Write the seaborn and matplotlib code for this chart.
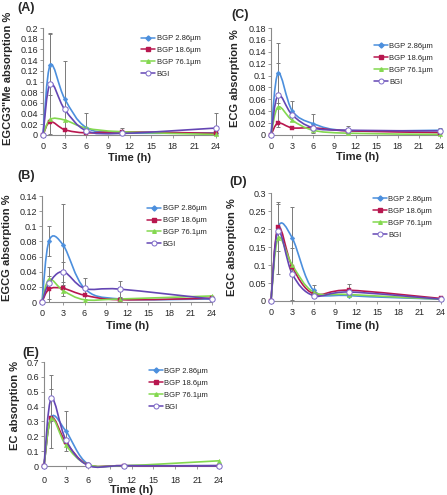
import numpy as np
import pandas as pd
import matplotlib
matplotlib.use("Agg")
import matplotlib.pyplot as plt
import seaborn as sns
from matplotlib.path import Path
from matplotlib.patches import PathPatch
from matplotlib.lines import Line2D
from matplotlib.ticker import FuncFormatter, MultipleLocator

# ---------------- data ----------------
time_h = [0, 1, 3, 6, 11, 24]
series = ["BGP 2.86µm", "BGP 18.6µm", "BGP 76.1µm", "BGI"]

# (A) EGCG3"Me
a_bgp286 = [0, 0.131, 0.068, 0.014, 0.004, 0.004]
a_bgp186 = [0, 0.025, 0.010, 0.004, 0.006, 0.003]
a_bgp761 = [0, 0.029, 0.028, 0.013, 0.006, 0.001]
a_bgi    = [0, 0.096, 0.048, 0.008, 0.003, 0.013]
a_err286 = [np.nan, 0.057, 0.071, 0.027, np.nan, np.nan]
a_err186 = [np.nan, np.nan, np.nan, np.nan, 0.008, np.nan]
a_err761 = [np.nan, np.nan, np.nan, np.nan, np.nan, np.nan]
a_errbgi = [np.nan, 0.095, np.nan, np.nan, np.nan, 0.028]

# (C) ECG
c_bgp286 = [0, 0.104, 0.041, 0.019, 0.007, 0.008]
c_bgp186 = [0, 0.020, 0.012, 0.012, 0.007, 0.004]
c_bgp761 = [0, 0.047, 0.025, 0.008, 0.003, 0.001]
c_bgi    = [0, 0.067, 0.034, 0.012, 0.008, 0.007]
c_err286 = [np.nan, 0.051, 0.017, 0.016, np.nan, 0.004]
c_err186 = [np.nan, np.nan, np.nan, np.nan, np.nan, np.nan]
c_err761 = [np.nan, np.nan, np.nan, np.nan, np.nan, np.nan]
c_errbgi = [np.nan, 0.054, np.nan, np.nan, 0.007, np.nan]

# (B) EGCG
b_bgp286 = [0, 0.081, 0.075, 0.018, 0.004, 0.004]
b_bgp186 = [0, 0.017, 0.018, 0.009, 0.003, 0.005]
b_bgp761 = [0, 0.030, 0.015, 0.003, 0.004, 0.008]
b_bgi    = [0, 0.025, 0.040, 0.018, 0.017, 0.004]
b_err286 = [np.nan, 0.020, 0.055, np.nan, np.nan, np.nan]
b_err186 = [np.nan, 0.017, np.nan, np.nan, np.nan, np.nan]
b_err761 = [np.nan, np.nan, 0.007, np.nan, np.nan, np.nan]
b_errbgi = [np.nan, 0.021, 0.013, 0.014, 0.011, np.nan]

# (D) EGC
d_bgp286 = [0, 0.205, 0.175, 0.030, 0.015, 0.005]
d_bgp186 = [0, 0.205, 0.095, 0.020, 0.030, 0.007]
d_bgp761 = [0, 0.175, 0.100, 0.025, 0.018, 0.005]
d_bgi    = [0, 0.195, 0.075, 0.015, 0.025, 0.005]
d_err286 = [np.nan, 0.065, 0.085, 0.015, np.nan, np.nan]
d_err186 = [np.nan, np.nan, np.nan, np.nan, 0.016, np.nan]
d_err761 = [np.nan, 0.100, np.nan, np.nan, np.nan, np.nan]
d_errbgi = [np.nan, np.nan, 0.072, np.nan, np.nan, np.nan]

# (E) EC
e_bgp286 = [0, 0.330, 0.235, 0.015, 0.002, 0.003]
e_bgp186 = [0, 0.325, 0.160, 0.010, 0.002, 0.002]
e_bgp761 = [0, 0.320, 0.140, 0.010, 0.002, 0.035]
e_bgi    = [0, 0.455, 0.175, 0.005, 0.002, 0.001]
e_err286 = [np.nan, np.nan, 0.135, np.nan, np.nan, np.nan]
e_err186 = [np.nan, np.nan, np.nan, np.nan, np.nan, np.nan]
e_err761 = [np.nan, 0.200, np.nan, np.nan, np.nan, np.nan]
e_errbgi = [np.nan, 0.155, np.nan, np.nan, np.nan, 0.010]

panels = [
    dict(tag="(A)", ylabel='EGCG3"Me absorption %', ymax=0.2, ystep=0.02,
         vals=[a_bgp286, a_bgp186, a_bgp761, a_bgi], errs=[a_err286, a_err186, a_err761, a_errbgi],
         px=(43, 216, 28, 135), title=(17, 8), xlab=(130, 158), ylab=(8, 78),
         leg=(0.56, 0.95), xpad=2.6),
    dict(tag="(C)", ylabel="ECG absorption %", ymax=0.18, ystep=0.02,
         vals=[c_bgp286, c_bgp186, c_bgp761, c_bgi], errs=[c_err286, c_err186, c_err761, c_errbgi],
         px=(271, 440, 28, 135), title=(231, 15), xlab=(358, 157), ylab=(235, 78),
         leg=(0.60, 0.88), xpad=2.6),
    dict(tag="(B)", ylabel="EGCG absorption %", ymax=0.14, ystep=0.02,
         vals=[b_bgp286, b_bgp186, b_bgp761, b_bgi], errs=[b_err286, b_err186, b_err761, b_errbgi],
         px=(42, 212, 196, 302), title=(17, 176), xlab=(128, 326), ylab=(7, 248),
         leg=(0.61, 0.93), xpad=2.6),
    dict(tag="(D)", ylabel="EGC absorption %", ymax=0.3, ystep=0.05,
         vals=[d_bgp286, d_bgp186, d_bgp761, d_bgi], errs=[d_err286, d_err186, d_err761, d_errbgi],
         px=(271, 441, 193, 301), title=(229, 182), xlab=(358, 326), ylab=(232, 247),
         leg=(0.59, 0.99), xpad=2.6),
    dict(tag="(E)", ylabel="EC absorption %", ymax=0.7, ystep=0.1,
         vals=[e_bgp286, e_bgp186, e_bgp761, e_bgi], errs=[e_err286, e_err186, e_err761, e_errbgi],
         px=(44, 219, 362, 466), title=(22, 353), xlab=(132, 490), ylab=(15, 405),
         leg=(0.59, 0.96), xpad=5.0),
]

colors = {"BGP 2.86µm": "#4C8FDD", "BGP 18.6µm": "#B8174F",
          "BGP 76.1µm": "#84D850", "BGI": "#6446B4"}
markers = {"BGP 2.86µm": "D", "BGP 18.6µm": "s", "BGP 76.1µm": "^", "BGI": "o"}
msizes = {"BGP 2.86µm": 6, "BGP 18.6µm": 8, "BGP 76.1µm": 10, "BGI": 15}

# ---------------- style ----------------
sns.set_style("ticks")
plt.rcParams["font.family"] = ["Liberation Sans", "DejaVu Sans"]

W, H = 447, 495
fig = plt.figure(figsize=(W / 100, H / 100), dpi=100)
AXC = "#8a8a8a"


def smooth_path(x, y):
    pts = np.column_stack([x, y]).astype(float)
    n = len(pts)
    verts = [pts[0]]
    codes = [Path.MOVETO]
    for i in range(n - 1):
        p0 = pts[i - 1] if i > 0 else pts[i]
        p1 = pts[i]
        p2 = pts[i + 1]
        p3 = pts[i + 2] if i + 2 < n else pts[i + 1]
        c1 = p1 + (p2 - p0) / 6.0
        c2 = p2 - (p3 - p1) / 6.0
        verts += [c1, c2, p2]
        codes += [Path.CURVE4] * 3
    return Path(verts, codes)


fmt = FuncFormatter(lambda v, p: "%g" % round(v, 4))

for P in panels:
    x0, x24, ytop, y0 = P["px"]
    ax = fig.add_axes([x0 / W, 1 - y0 / H, (x24 - x0) / W, (y0 - ytop) / H])
    ax.set_xlim(0, 24)

    for name, v, e in zip(series, P["vals"], P["errs"]):
        e = np.asarray(e, float)
        vv = np.asarray(v, float)
        lower = np.minimum(e, vv)
        ax.errorbar(time_h, v, yerr=[lower, e], fmt="none", ecolor="#7a7a7a",
                    elinewidth=0.7, capsize=1.5, capthick=0.7, zorder=2, clip_on=False)

    for name, v in zip(series, P["vals"]):
        patch = PathPatch(smooth_path(time_h, v), facecolor="none",
                          edgecolor=colors[name], lw=1.2, zorder=3, clip_on=False)
        ax.add_patch(patch)
        if name == "BGI":
            sns.scatterplot(x=time_h, y=v, ax=ax, marker="o", s=msizes[name],
                            color="white", edgecolor="#7C68C8", linewidth=0.7,
                            zorder=4, clip_on=False, legend=False)
        else:
            sns.scatterplot(x=time_h, y=v, ax=ax, marker=markers[name], s=msizes[name],
                            color=colors[name], edgecolor=colors[name], linewidth=0.3,
                            zorder=4, clip_on=False, legend=False)

    ax.xaxis.set_major_locator(MultipleLocator(3))
    ax.yaxis.set_major_locator(MultipleLocator(P["ystep"]))
    ax.yaxis.set_major_formatter(fmt)
    ax.set_xlim(0, 24)
    ax.set_ylim(0, P["ymax"] * 1.0001)
    for s in ["top", "right"]:
        ax.spines[s].set_visible(False)
    for s in ["left", "bottom"]:
        ax.spines[s].set_color(AXC)
        ax.spines[s].set_linewidth(0.8)
    ax.tick_params(axis="both", labelsize=6.5, length=2.5, width=0.6, color=AXC,
                   direction="out")
    ax.tick_params(axis="x", pad=P["xpad"])
    ax.tick_params(axis="y", pad=1.2)

    ax.set_xlabel("Time (h)", fontsize=8, fontweight="bold")
    ax.set_ylabel(P["ylabel"], fontsize=8, fontweight="bold")
    cx, cy = P["xlab"]
    ax.xaxis.set_label_coords((cx - x0) / (x24 - x0), (y0 - cy) / (y0 - ytop))
    ax.xaxis.label.set_va("center")
    lx, ly = P["ylab"]
    ax.yaxis.set_label_coords((lx - x0) / (x24 - x0), (y0 - ly) / (y0 - ytop))
    ax.yaxis.label.set_va("center")

    tx, ty = P["title"]
    fig.text(tx / W, 1 - ty / H, P["tag"], fontsize=9, fontweight="bold",
             ha="left", va="center")

    handles = []
    for name in series:
        if name == "BGI":
            h = Line2D([0], [0], color=colors[name], lw=1.1, marker="o", markersize=3.6,
                       markerfacecolor="white", markeredgecolor="#7C68C8", markeredgewidth=0.7)
        else:
            h = Line2D([0], [0], color=colors[name], lw=1.1, marker=markers[name],
                       markersize=2.6, markerfacecolor=colors[name],
                       markeredgecolor=colors[name])
        handles.append(h)
    ax.legend(handles, series, loc="upper left", bbox_to_anchor=P["leg"],
              frameon=False, fontsize=5.5, handlelength=1.8, handletextpad=0.2,
              labelspacing=0.6, borderpad=0.2, borderaxespad=0)

fig.savefig("out.png", dpi=100)
